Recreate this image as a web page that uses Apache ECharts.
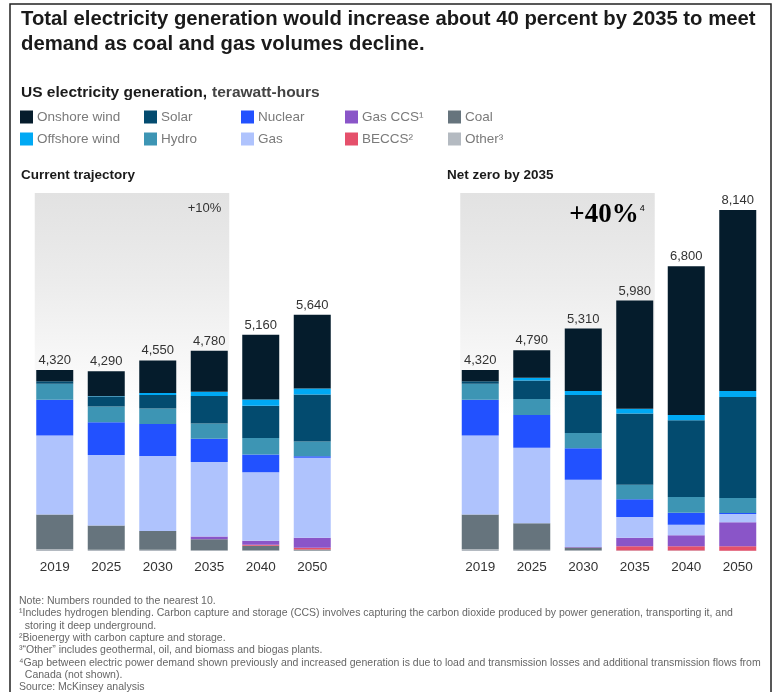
<!DOCTYPE html>
<html>
<head>
<meta charset="utf-8">
<script src="https://cdn.jsdelivr.net/npm/echarts@6/dist/echarts.min.js"></script>
<style>
html,body{margin:0;padding:0;background:#fff;}
#chart{width:773px;height:692px;}
</style>
</head>
<body>
<div id="chart"></div>
<script>
// ---------- data ----------
const years = ['2019', '2025', '2030', '2035', '2040', '2050'];
// stacking order: bottom -> top
const seriesNames = ['Other³', 'Coal', 'BECCS²', 'Gas CCS¹', 'Gas', 'Nuclear', 'Hydro', 'Solar', 'Offshore wind', 'Onshore wind'];

// Current trajectory, TWh
const curOther    = [40, 30, 30, 20, 15, 10];
const curCoal     = [830, 580, 445, 260, 110, 25];
const curBECCS    = [0, 0, 0, 0, 25, 45];
const curGasCCS   = [0, 0, 0, 64, 95, 235];
const curGas      = [1890, 1683, 1794, 1778, 1636, 1913];
const curNuclear  = [850, 778, 762, 556, 421, 32];
const curHydro    = [381, 381, 373, 365, 397, 357];
const curSolar    = [64, 230, 318, 659, 770, 1120];
const curOffshore = [0, 10, 50, 100, 150, 143];
const curOnshore  = [265, 598, 778, 978, 1541, 1760];
const curTotals   = [4320, 4290, 4550, 4780, 5160, 5640];

// Net zero by 2035, TWh
const nzOther    = [40, 30, 20, 10, 10, 8];
const nzCoal     = [830, 635, 64, 0, 0, 0];
const nzBECCS    = [0, 0, 0, 103, 103, 103];
const nzGasCCS   = [0, 0, 10, 206, 261, 577];
const nzGas      = [1890, 1802, 1604, 490, 253, 198];
const nzNuclear  = [850, 778, 754, 427, 285, 24];
const nzHydro    = [381, 381, 365, 348, 380, 356];
const nzSolar    = [64, 445, 905, 1700, 1827, 2413];
const nzOffshore = [0, 64, 95, 111, 127, 142];
const nzOnshore  = [265, 655, 1493, 2585, 3554, 4319];
const nzTotals   = [4320, 4790, 5310, 5980, 6800, 8140];

const footnotes = [
  'Note: Numbers rounded to the nearest 10.',
  '¹Includes hydrogen blending. Carbon capture and storage (CCS) involves capturing the carbon dioxide produced by power generation, transporting it, and',
  '  storing it deep underground.',
  '²Bioenergy with carbon capture and storage.',
  '³“Other” includes geothermal, oil, and biomass and biogas plants.',
  '⁴Gap between electric power demand shown previously and increased generation is due to load and transmission losses and additional transmission flows from',
  '  Canada (not shown).',
  'Source: McKinsey analysis'
];

// ---------- styles ----------
const colors = {
  'Other³': '#b4bac1',
  'Coal': '#66747d',
  'BECCS²': '#e5506b',
  'Gas CCS¹': '#8a55c8',
  'Gas': '#afc3fd',
  'Nuclear': '#2251ff',
  'Hydro': '#3d95b4',
  'Solar': '#034b6f',
  'Offshore wind': '#00a9f4',
  'Onshore wind': '#051c2c'
};

const curData = [curOther, curCoal, curBECCS, curGasCCS, curGas, curNuclear, curHydro, curSolar, curOffshore, curOnshore];
const nzData  = [nzOther, nzCoal, nzBECCS, nzGasCCS, nzGas, nzNuclear, nzHydro, nzSolar, nzOffshore, nzOnshore];

const FONT = '"Liberation Sans", Arial, sans-serif';

function makeSeries(dataSets, gridIdx, totals) {
  return seriesNames.map((name, i) => {
    const s = {
      name: name,
      type: 'bar',
      stack: 'g' + gridIdx,
      xAxisIndex: gridIdx,
      yAxisIndex: gridIdx,
      barWidth: 37,
      data: dataSets[i],
      itemStyle: { color: colors[name] },
      emphasis: { disabled: true },
      animation: false
    };
    if (i === seriesNames.length - 1) {
      s.label = {
        show: true,
        position: 'top',
        distance: 3,
        color: '#333',
        fontSize: 13,
        fontFamily: FONT,
        formatter: p => totals[p.dataIndex].toLocaleString('en-US')
      };
    }
    return s;
  });
}

const legendCols = [
  { left: 20, items: ['Onshore wind', 'Offshore wind'] },
  { left: 144, items: ['Solar', 'Hydro'] },
  { left: 241, items: ['Nuclear', 'Gas'] },
  { left: 345, items: ['Gas CCS¹', 'BECCS²'] },
  { left: 448, items: ['Coal', 'Other³'] }
];

const axisCommon = {
  type: 'category',
  data: years,
  axisLine: { show: false },
  axisTick: { show: false },
  axisLabel: { color: '#333', fontSize: 13.5, fontFamily: FONT, margin: 9 }
};
const yCommon = { type: 'value', min: 0, max: 9000, show: false, splitLine: { show: false } };

const option = {
  backgroundColor: '#fff',
  animation: false,
  title: [
    {
      text: 'Total electricity generation would increase about 40 percent by 2035 to meet\ndemand as coal and gas volumes decline.',
      left: 21, top: 7, padding: 0,
      textStyle: { fontFamily: FONT, fontSize: 20.3, fontWeight: 'bold', color: '#1a1a1a', lineHeight: 25 }
    },
    {
      text: '{b|US electricity generation,} {n|terawatt-hours}',
      left: 21, top: 84, padding: 0,
      textStyle: {
        rich: {
          b: { fontFamily: FONT, fontSize: 15.5, fontWeight: 'bold', color: '#1a1a1a' },
          n: { fontFamily: FONT, fontSize: 15.5, color: '#444' }
        }
      }
    },
    {
      text: 'Current trajectory', left: 21, top: 168, padding: 0,
      textStyle: { fontFamily: FONT, fontSize: 13.5, fontWeight: 'bold', color: '#1a1a1a' }
    },
    {
      text: 'Net zero by 2035', left: 447, top: 168, padding: 0,
      textStyle: { fontFamily: FONT, fontSize: 13.5, fontWeight: 'bold', color: '#1a1a1a' }
    }
  ],
  legend: legendCols.map(c => ({
    left: c.left, top: 110, orient: 'vertical', padding: 0,
    itemWidth: 13, itemHeight: 13, itemGap: 8,
    icon: 'rect', selectedMode: false,
    data: c.items,
    textStyle: { color: '#7a7a7a', fontSize: 13.5, fontFamily: FONT, padding: [0, 0, 0, -1] }
  })),
  grid: [
    { left: 29, width: 309, top: 174, height: 377 },
    { left: 454.5, width: 309, top: 174, height: 377 }
  ],
  xAxis: [
    Object.assign({ gridIndex: 0 }, axisCommon),
    Object.assign({ gridIndex: 1 }, axisCommon)
  ],
  yAxis: [
    Object.assign({ gridIndex: 0 }, yCommon),
    Object.assign({ gridIndex: 1 }, yCommon)
  ],
  series: makeSeries(curData, 0, curTotals).concat(makeSeries(nzData, 1, nzTotals))
};

const chart = echarts.init(document.getElementById('chart'), null, { renderer: 'canvas' });
chart.setOption(option);

// background gradient boxes spanning 2019..2035 and annotations
function boxFor(idx) {
  const x0 = chart.convertToPixel({ xAxisIndex: idx }, years[0]);
  const x1 = chart.convertToPixel({ xAxisIndex: idx }, years[3]);
  const yb = chart.convertToPixel({ yAxisIndex: idx }, 0);
  return { x: x0 - 20, y: 193, w: (x1 + 20) - (x0 - 20), h: yb - 193 };
}
const b0 = boxFor(0), b1 = boxFor(1);
const grad = {
  type: 'linear', x: 0, y: 0, x2: 0, y2: 1,
  colorStops: [
    { offset: 0, color: '#e2e2e2' },
    { offset: 0.25, color: '#ececec' },
    { offset: 0.5, color: '#f9f9f9' },
    { offset: 0.62, color: '#ffffff' },
    { offset: 1, color: '#ffffff' }
  ]
};

chart.setOption({
  graphic: [
    { type: 'rect', z: -10, silent: true, shape: { x: b0.x, y: b0.y, width: b0.w, height: b0.h }, style: { fill: grad } },
    { type: 'rect', z: -10, silent: true, shape: { x: b1.x, y: b1.y, width: b1.w, height: b1.h }, style: { fill: grad } },
    {
      type: 'text', z: 10, silent: true, x: b0.x + b0.w - 8, y: 208,
      style: { text: '+10%', fill: '#333', font: '13px ' + FONT, align: 'right', verticalAlign: 'middle' }
    },
    {
      type: 'text', z: 10, silent: true, x: b1.x + b1.w - 10, y: 215,
      style: {
        text: '{a|+40%}{s|4}', align: 'right', verticalAlign: 'middle',
        rich: {
          a: { fontFamily: '"Liberation Serif", "DejaVu Serif", serif', fontSize: 27, fontWeight: 'bold', color: '#1a1a1a', lineHeight: 32 },
          s: { fontFamily: FONT, fontSize: 9, color: '#1a1a1a', verticalAlign: 'top', lineHeight: 32, padding: [5, 0, 0, 1] }
        }
      }
    },
    {
      type: 'text', silent: true, x: 19, y: 595,
      style: { text: footnotes.join('\n'), fill: '#666', font: '10.5px ' + FONT, lineHeight: 12.3 }
    },
    {
      type: 'rect', silent: true, z: 20,
      shape: { x: 10, y: 4, width: 761, height: 720 },
      style: { fill: 'none', stroke: '#222', lineWidth: 1.5 }
    }
  ]
});
</script>
</body>
</html>
